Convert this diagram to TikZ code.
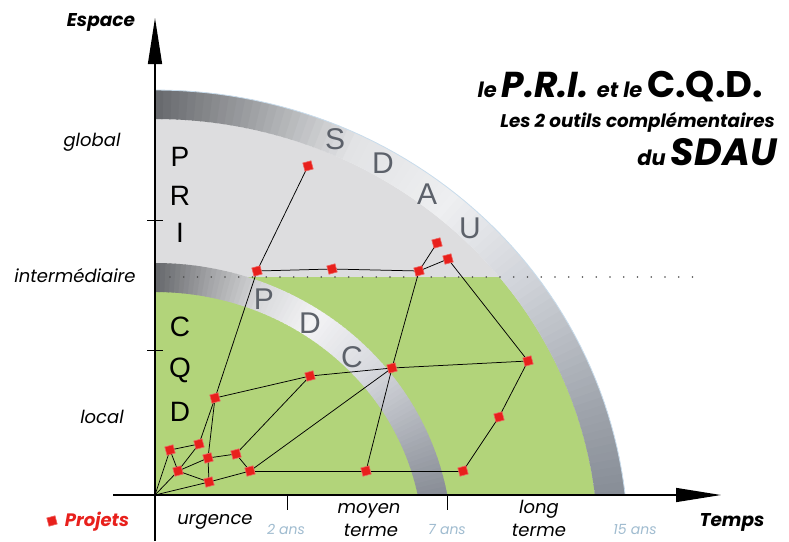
\documentclass[tikz,border=0pt]{standalone}
\usepackage{fontspec}
\setmainfont{Poppins}
\newfontfamily\arl{Liberation Sans}
\usetikzlibrary{arrows.meta}
\pgfdeclarelayer{bglayer}
\pgfdeclarelayer{edgelayer}
\pgfsetlayers{bglayer,edgelayer,main}
\definecolor{grn}{RGB}{178,212,122}
\definecolor{lgray}{RGB}{221,221,223}
\definecolor{lettergray}{RGB}{92,97,106}
\definecolor{ansblue}{RGB}{160,188,208}
\definecolor{projred}{RGB}{232,32,28}
\definecolor{edgeblue}{RGB}{200,220,236}
\definecolor{s0}{RGB}{122,128,138}
\definecolor{s1}{RGB}{160,165,173}
\definecolor{s2}{RGB}{208,211,217}
\definecolor{s3}{RGB}{238,239,241}
\definecolor{s4}{RGB}{226,227,229}
\definecolor{s5}{RGB}{160,162,165}
\definecolor{s6}{RGB}{100,102,106}
\definecolor{p0}{RGB}{112,117,127}
\definecolor{p1}{RGB}{160,164,172}
\definecolor{p2}{RGB}{215,217,222}
\definecolor{p3}{RGB}{243,243,245}
\definecolor{p4}{RGB}{215,216,218}
\definecolor{p5}{RGB}{160,161,164}
\definecolor{p6}{RGB}{98,100,104}
\begin{document}
\begin{tikzpicture}[x=1pt,y=-1pt,
  proj/.style={rectangle, fill=projred, draw=projred!70, line width=0.6pt, minimum size=8.5pt, inner sep=0pt, rotate=15},
  link/.style={draw=black, line width=0.75pt},
  axis/.style={draw=black, line width=1.4pt},
  tick/.style={draw=black, line width=1pt},
  lab/.style={font=\fontsize{18}{18}\selectfont\itshape, inner sep=0pt, anchor=base},
  ans/.style={text=ansblue, font=\fontsize{14}{14}\selectfont\itshape, inner sep=0pt, anchor=base},
  bandletter/.style={text=lettergray, font=\arl\fontsize{30}{30}\selectfont, inner sep=0pt},
  sideletter/.style={text=black, font=\arl\fontsize{28}{28}\selectfont, inner sep=0pt}]
\useasboundingbox (0,0) rectangle (789,541);
\begin{pgfonlayer}{bglayer}
\fill[white] (0,0) rectangle (789,541);
\begin{scope}
\clip (155,0) rectangle (789,495);
\fill[lgray] (155,545) ellipse [x radius=443pt, y radius=426pt];
\begin{scope}
\clip (155,277) rectangle (789,495);
\fill[grn] (155,545) ellipse [x radius=443pt, y radius=426pt];
\end{scope}
% SDAU band
\foreach \ta/\tb/\ca/\cb in {0/18/s0/s1,18/36/s1/s2,36/50/s2/s3,50/64/s3/s4,64/77/s4/s5,77/90/s5/s6}{
  \pgfmathtruncatemacro\tl{\tb-1}
  \foreach \t in {\ta,...,\tl}{
    \pgfmathtruncatemacro\p{100*(\tb-\t)/(\tb-\ta)}
    \pgfmathsetmacro\tt{\t+1.2}
    \fill[\ca!\p!\cb] ({155+473*cos(\t)},{545-455*sin(\t)}) -- ({155+473*cos(\tt)},{545-455*sin(\tt)}) -- ({155+443*cos(\tt)},{545-426*sin(\tt)}) -- ({155+443*cos(\t)},{545-426*sin(\t)}) -- cycle;
  }
}
\draw[edgeblue, line width=0.8pt] plot[domain=0:90, samples=60] ({155+473*cos(\x)},{545-455*sin(\x)});
% PDC band
\foreach \ta/\tb/\ca/\cb in {0/20/p0/p1,20/40/p1/p2,40/56/p2/p3,56/68/p3/p4,68/79/p4/p5,79/90/p5/p6}{
  \pgfmathtruncatemacro\tl{\tb-1}
  \foreach \t in {\ta,...,\tl}{
    \pgfmathtruncatemacro\p{100*(\tb-\t)/(\tb-\ta)}
    \pgfmathsetmacro\tt{\t+1.2}
    \fill[\ca!\p!\cb] ({155+297*cos(\t)},{545-282*sin(\t)}) -- ({155+297*cos(\tt)},{545-282*sin(\tt)}) -- ({155+268*cos(\tt)},{545-253*sin(\tt)}) -- ({155+268*cos(\t)},{545-253*sin(\t)}) -- cycle;
  }
}
\end{scope}
% dotted line
\draw[line width=1.7pt, line cap=round, dash pattern=on 0pt off 13.75pt, black!70] (170,277) -- (698,277);
\end{pgfonlayer}

% band letters
\node[bandletter] (bS) at (335,139) {S};
\node[bandletter] (bD) at (383,163) {D};
\node[bandletter] (bA) at (427,194) {A};
\node[bandletter] (bU) at (470,228) {U};
\node[bandletter] (cP) at (264,299) {P};
\node[bandletter] (cD) at (310,323) {D};
\node[bandletter] (cC) at (352,357) {C};
\node[sideletter] (lP) at (180,157) {P};
\node[sideletter] (lR) at (180,196) {R};
\node[sideletter] (lI) at (180,233) {I};
\node[sideletter] (lC) at (180,327) {C};
\node[sideletter] (lQ) at (180,370) {Q};
\node[sideletter] (lD) at (180,412) {D};

% axes
\coordinate (ybot) at (155,541);
\coordinate (ytop) at (155,18);
\coordinate (xleft) at (113,495);
\coordinate (xright) at (721,495);
\coordinate (O) at (155,495);
\draw[axis, -{Triangle[length=46pt, width=14pt]}] (ybot) -- (ytop);
\draw[axis, -{Triangle[length=45pt, width=14pt]}] (xleft) -- (xright);
\coordinate (tx1a) at (287,495); \coordinate (tx1b) at (287,510);
\coordinate (tx2a) at (447,495); \coordinate (tx2b) at (447,510);
\coordinate (ty1a) at (147,220); \coordinate (ty1b) at (163,220);
\coordinate (ty2a) at (147,350); \coordinate (ty2b) at (163,350);
\draw[tick] (tx1a) -- (tx1b);
\draw[tick] (tx2a) -- (tx2b);
\draw[tick] (ty1a) -- (ty1b);
\draw[tick] (ty2a) -- (ty2b);

% projects
\node[proj] (n1) at (308,166) {};
\node[proj] (n2) at (257,271) {};
\node[proj] (n3) at (332,269) {};
\node[proj] (n4) at (419,271) {};
\node[proj] (n5) at (437,243) {};
\node[proj] (n6) at (448,259) {};
\node[proj] (n7) at (392,368) {};
\node[proj] (n8) at (310,376) {};
\node[proj] (n9) at (528,361) {};
\node[proj] (n10) at (499,417) {};
\node[proj] (n11) at (463,471) {};
\node[proj] (n12) at (215,398) {};
\node[proj] (n13) at (170,450) {};
\node[proj] (n14) at (199,444) {};
\node[proj] (n15) at (178,471) {};
\node[proj] (n16) at (208,458) {};
\node[proj] (n17) at (236,454) {};
\node[proj] (n18) at (250,471) {};
\node[proj] (n19) at (209,482) {};
\node[proj] (n20) at (366,471) {};
\begin{pgfonlayer}{edgelayer}
\foreach \a/\b in {n1/n2,n2/n3,n3/n4,n4/n5,n4/n6,n6/n9,n4/n7,n7/n20,n8/n7,n7/n9,n12/n8,n2/n12,n12/n14,n12/n16,n13/n14,n14/n15,n13/n15,n15/n16,n16/n17,n16/n19,n15/n19,n19/n18,n17/n18,n17/n8,n18/n7,n18/n20,n20/n11,n11/n10,n10/n9}
  \draw[link] (\a.center) -- (\b.center);
\foreach \b in {n13,n15,n19}
  \draw[link] (O) -- (\b.center);
\end{pgfonlayer}

% labels
\node[lab, font=\fontsize{18.5}{18.5}\selectfont\bfseries\itshape] (espace) at (101,26) {Espace};
\node[lab] (global) at (92,146) {global};
\node[lab] (inter) at (75,282) {intermédiaire};
\node[lab] (local) at (102,423) {local};
\node[proj] (legsq) at (52,521) {};
\node[lab, text=projred, font=\fontsize{18}{18}\selectfont\bfseries\itshape] (projets) at (97,526) {Projets};
\node[lab] (urg) at (215,524) {urgence};
\node[ans] (a2) at (286,534) {2 ans};
\node[lab] (moyen) at (369,513) {moyen};
\node[lab] (terme1) at (371,536) {terme};
\node[ans] (a7) at (447,534) {7 ans};
\node[lab] (long) at (539,513) {long};
\node[lab] (terme2) at (539,536) {terme};
\node[ans] (a15) at (635,534) {15 ans};
\node[lab, font=\fontsize{18.5}{18.5}\selectfont\bfseries\itshape] (temps) at (732,526) {Temps};

% title
\node[inner sep=0pt, anchor=base east] (t1) at (763,97) {\bfseries\itshape{\fontsize{21}{21}\selectfont le }{\fontsize{36}{36}\selectfont P.R.I. }{\fontsize{21}{21}\selectfont et le }{\upshape\fontsize{37}{37}\selectfont C.Q.D.}};
\node[inner sep=0pt, anchor=base east, font=\fontsize{18.3}{18.3}\selectfont\bfseries\itshape] (t2) at (775,127) {Les 2 outils complémentaires};
\node[inner sep=0pt, anchor=base east] (t3) at (777,165) {\bfseries\itshape{\fontsize{21}{21}\selectfont du }{\fontsize{38}{38}\selectfont SDAU}};
\end{tikzpicture}
\end{document}
